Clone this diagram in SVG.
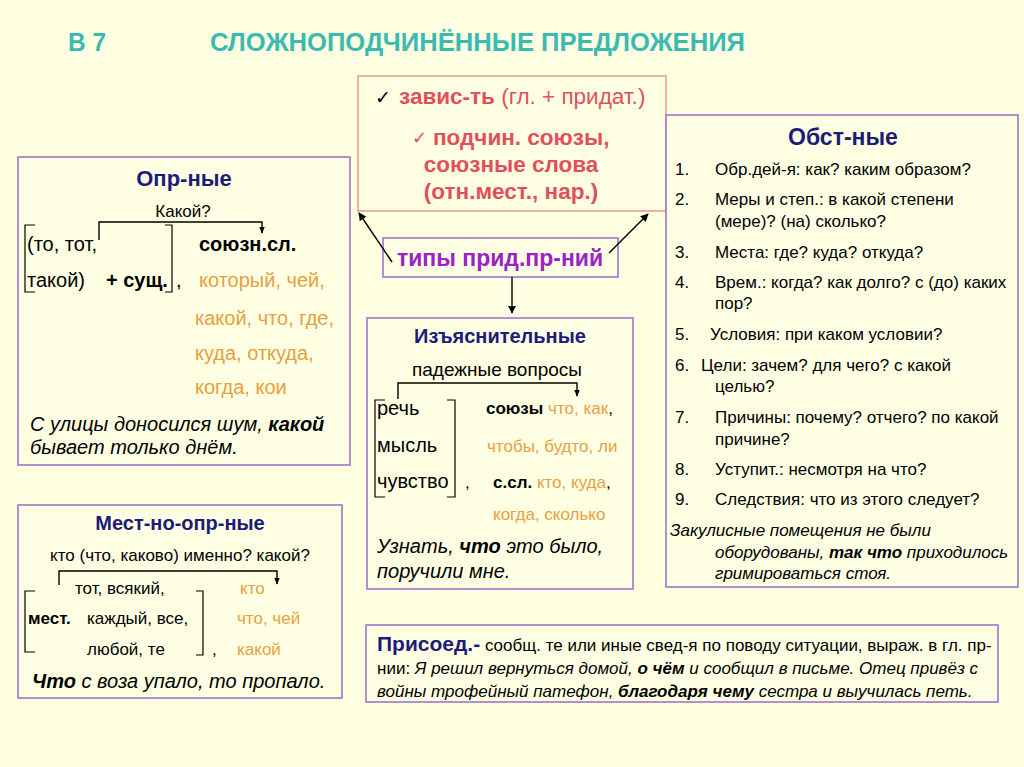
<svg xmlns="http://www.w3.org/2000/svg" width="1024" height="767" viewBox="0 0 1024 767">
<defs>
<marker id="ah" viewBox="0 0 10 10" refX="9" refY="5" markerWidth="8" markerHeight="8" orient="auto" markerUnits="userSpaceOnUse"><path d="M0,0 L10,5 L0,10 z" fill="#000"/></marker>
<marker id="ahs" viewBox="0 0 10 10" refX="9" refY="5" markerWidth="7" markerHeight="7" orient="auto" markerUnits="userSpaceOnUse"><path d="M0,1 L10,5 L0,9 z" fill="#000"/></marker>
</defs>
<style>
text{font-family:"Liberation Sans",Arial,sans-serif;fill:#000}
.box{fill:#FFFFE3;stroke:#A374C9;stroke-width:1.6}
.rbox{fill:#FFFFE3;stroke:#E8A090;stroke-width:1.6}
.ttl{font-weight:bold;fill:#1C1C78;font-size:22px}
.t{font-size:20px}
.s{font-size:17px}
.o{fill:#E8A040}
.b{font-weight:bold}
.i{font-style:italic;font-size:20px}
.red{fill:#E0505A;font-size:22.5px}
.br{fill:none;stroke:#000;stroke-width:1.2}
.ln{fill:none;stroke:#000;stroke-width:1.4}
</style>
<rect width="1024" height="767" fill="#FFFFE1"/>
<g id="title">
<text x="68" y="51" font-size="25" font-weight="bold" style="fill:#3BB9B3" textLength="38" lengthAdjust="spacingAndGlyphs">В 7</text>
<text x="210" y="51" font-size="25" font-weight="bold" style="fill:#3BB9B3" textLength="535" lengthAdjust="spacingAndGlyphs">СЛОЖНОПОДЧИНЁННЫЕ ПРЕДЛОЖЕНИЯ</text>
</g>
<g id="features">
<rect class="rbox" x="358" y="76" width="308" height="135"/>
<text x="375" y="104" font-size="19">✓</text>
<text x="399" y="104" class="red"><tspan class="b">завис-ть</tspan> (гл. + придат.)</text>
<text x="412" y="144" font-size="18" style="fill:#E0505A">✓</text>
<text x="433" y="145" class="red b">подчин. союзы,</text>
<text x="511" y="172" class="red b" text-anchor="middle">союзные слова</text>
<text x="511" y="199" class="red b" text-anchor="middle">(отн.мест., нар.)</text>
</g>
<g id="types">
<rect class="box" x="383" y="238" width="235" height="39"/>
<text x="500" y="266" font-size="23" font-weight="bold" text-anchor="middle" style="fill:#9A22C8">типы прид.пр-ний</text>
</g>
<g id="opr">
<rect class="box" x="18" y="157" width="332" height="308"/>
<text x="184" y="186" class="ttl" text-anchor="middle">Опр-ные</text>
<text x="183" y="217" class="s" text-anchor="middle">Какой?</text>
<path class="br" d="M35,225 H25 V292 H35 M165,225 H172 V292 H165"/>
<path class="ln" d="M99,240 V222 H262 V233" marker-end="url(#ahs)"/>
<text x="27" y="251" class="t">(то, тот,</text>
<text x="27" y="287" class="t">такой)</text>
<text x="106" y="287" class="t b">+ сущ.</text>
<text x="176" y="287" class="t">,</text>
<text x="199" y="251" class="t b">союзн.сл.</text>
<text x="199" y="287" class="t o">который, чей,</text>
<text x="195" y="325" class="t o">какой, что, где,</text>
<text x="195" y="360" class="t o">куда, откуда,</text>
<text x="195" y="394" class="t o">когда, кои</text>
<text x="30" y="431" class="i">С улицы доносился шум, <tspan class="b">какой</tspan></text>
<text x="30" y="454" class="i">бывает только днём.</text>
</g>
<g id="mestopr">
<rect class="box" x="18" y="505" width="324" height="193"/>
<text x="180" y="530" class="ttl" style="font-size:20px" text-anchor="middle">Мест-но-опр-ные</text>
<text x="180" y="561" class="s" text-anchor="middle">кто (что, каково) именно? какой?</text>
<path class="ln" d="M59,585 V571 H277 V584" marker-end="url(#ahs)"/>
<path class="br" d="M35,591 H25 V652 H35 M196,591 H203 V655 H196"/>
<text x="75" y="594" class="s">тот, всякий,</text>
<text x="240" y="594" class="s o">кто</text>
<text x="28" y="624" class="s b">мест.</text>
<text x="87" y="624" class="s">каждый, все,</text>
<text x="237" y="624" class="s o">что, чей</text>
<text x="87" y="655" class="s">любой, те</text>
<text x="212" y="655" class="s">,</text>
<text x="237" y="655" class="s o">какой</text>
<text x="32" y="688" class="i"><tspan class="b">Что</tspan> с воза упало, то пропало.</text>
</g>
<g id="izyasn">
<rect class="box" x="367" y="318" width="266" height="271"/>
<text x="500" y="343" class="ttl" style="font-size:20px" text-anchor="middle">Изъяснительные</text>
<text x="497" y="376" class="t" style="font-size:19px" text-anchor="middle">падежные вопросы</text>
<path class="ln" d="M398,399 V383 H577 V396" marker-end="url(#ahs)"/>
<path class="br" d="M385,400 H375 V497 H385 M447,400 H455 V497 H447"/>
<text x="377" y="415" class="t">речь</text>
<text x="486" y="414" class="s"><tspan class="b">союзы</tspan> <tspan class="o">что, как</tspan>,</text>
<text x="377" y="452" class="t">мысль</text>
<text x="487" y="452" class="s o">чтобы, будто, ли</text>
<text x="377" y="488" class="t">чувство</text>
<text x="465" y="488" class="s">,</text>
<text x="493" y="488" class="s"><tspan class="b">с.сл.</tspan> <tspan class="o">кто, куда</tspan>,</text>
<text x="493" y="520" class="s o">когда, сколько</text>
<text x="377" y="553" class="i">Узнать, <tspan class="b">что</tspan> это было,</text>
<text x="377" y="578" class="i">поручили мне.</text>
</g>
<g id="obst">
<rect class="box" x="666" y="115" width="352" height="472"/>
<text x="843" y="145" class="ttl" style="font-size:23px" text-anchor="middle">Обст-ные</text>
<text x="675" y="175" class="s">1.</text><text x="715" y="175" class="s">Обр.дей-я: как? каким образом?</text>
<text x="675" y="205" class="s">2.</text><text x="715" y="205" class="s">Меры и степ.: в какой степени</text>
<text x="715" y="227" class="s">(мере)? (на) сколько?</text>
<text x="675" y="258" class="s">3.</text><text x="715" y="258" class="s">Места: где? куда? откуда?</text>
<text x="675" y="288" class="s">4.</text><text x="715" y="288" class="s">Врем.: когда? как долго? с (до) каких</text>
<text x="715" y="309" class="s">пор?</text>
<text x="675" y="340" class="s">5.</text><text x="710" y="340" class="s">Условия: при каком условии?</text>
<text x="675" y="371" class="s">6.</text><text x="701" y="371" class="s">Цели: зачем? для чего? с какой</text>
<text x="715" y="392" class="s">целью?</text>
<text x="675" y="423" class="s">7.</text><text x="715" y="423" class="s">Причины: почему? отчего? по какой</text>
<text x="715" y="445" class="s">причине?</text>
<text x="675" y="475" class="s">8.</text><text x="715" y="475" class="s">Уступит.: несмотря на что?</text>
<text x="675" y="505" class="s">9.</text><text x="715" y="505" class="s">Следствия: что из этого следует?</text>
<text x="670" y="536" class="s" font-style="italic">Закулисные помещения не были</text>
<text x="715" y="558" class="s" font-style="italic">оборудованы, <tspan class="b">так что</tspan> приходилось</text>
<text x="715" y="579" class="s" font-style="italic">гримироваться стоя.</text>
</g>
<g id="prisoed">
<rect class="box" x="366" y="625" width="632" height="77"/>
<text x="377" y="651" class="s"><tspan class="b" style="fill:#1C1C78;font-size:21px">Присоед.-</tspan> сообщ. те или иные свед-я по поводу ситуации, выраж. в гл. пр-</text>
<text x="377" y="674" class="s">нии: <tspan font-style="italic">Я решил вернуться домой, </tspan><tspan class="b" font-style="italic">о чём</tspan><tspan font-style="italic"> и сообщил в письме. Отец привёз с</tspan></text>
<text x="377" y="697" class="s" font-style="italic">войны трофейный патефон, <tspan class="b">благодаря чему</tspan> сестра и выучилась петь.</text>
</g>
<g id="connectors">
<path class="ln" d="M392,262 L359,213" marker-end="url(#ah)"/>
<path class="ln" d="M609,253 L648,214" marker-end="url(#ah)"/>
<path class="ln" d="M512,277 V313" marker-end="url(#ah)"/>
</g>
</svg>
